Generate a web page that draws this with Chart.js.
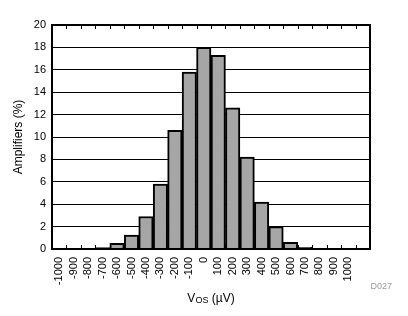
<!DOCTYPE html>
<html>
<head>
<meta charset="utf-8">
<script src="https://cdn.jsdelivr.net/npm/chart.js@4"></script>
<style>
html,body{margin:0;padding:0;background:#fff;}
#wrap{width:408px;height:316px;position:relative;}
</style>
</head>
<body>
<div id="wrap"><canvas id="c" width="408" height="316"></canvas></div>
<script>
const categories = ['-1000','-900','-800','-700','-600','-500','-400','-300','-200','-100','0','100','200','300','400','500','600','700','800','900','1000',''];
const amplifiers = [0,0,0,0.12,0.5,1.25,2.9,5.8,10.6,15.8,18.0,17.3,12.6,8.2,4.2,2.0,0.6,0.15,0,0,0,0];
const yTicksMin = 0, yTicksMax = 20, yStep = 2;
const yTitle = 'Amplifiers (%)';
const xTitleMain = 'V', xTitleSub = 'OS', xTitleRest = ' (µV)';
const figId = 'D027';

const FONT = 'Arial, "Liberation Sans", sans-serif';

const framePlugin = {
  id: 'frame',
  afterDatasetsDraw(chart) {
    const {ctx, chartArea: a, scales} = chart;
    const xs = scales.x;
    ctx.save();
    ctx.strokeStyle = '#000';
    ctx.lineWidth = 1;
    const n = categories.length;
    for (let i = 1; i < n; i++) {
      const px = Math.round((xs.getPixelForValue(i - 1) + xs.getPixelForValue(i)) / 2) + 0.5;
      ctx.beginPath();
      ctx.moveTo(px, a.top); ctx.lineTo(px, a.top + 4);
      ctx.moveTo(px, a.bottom); ctx.lineTo(px, a.bottom - 4);
      ctx.stroke();
    }
    ctx.lineWidth = 2;
    ctx.strokeRect(a.left, a.top, a.right - a.left, a.bottom - a.top);
    ctx.restore();
  },
  afterDraw(chart) {
    const {ctx, chartArea: a} = chart;
    ctx.save();
    ctx.fillStyle = '#000';
    ctx.textBaseline = 'alphabetic';
    const big = '12px ' + FONT, small = '9px ' + FONT;
    ctx.font = big; const w1 = ctx.measureText(xTitleMain).width;
    const w3 = ctx.measureText(xTitleRest).width;
    ctx.font = small; const w2 = ctx.measureText(xTitleSub).width;
    const total = w1 + w2 + w3;
    let x = (a.left + a.right) / 2 - total / 2;
    const y = 302;
    ctx.textAlign = 'left';
    ctx.font = big; ctx.fillText(xTitleMain, x, y); x += w1;
    ctx.font = small; ctx.fillText(xTitleSub, x, y + 1); x += w2;
    ctx.font = big; ctx.fillText(xTitleRest, x, y);
    ctx.font = '9px ' + FONT;
    ctx.fillStyle = '#999';
    ctx.textAlign = 'right';
    ctx.fillText(figId, 392, 289);
    ctx.restore();
  }
};

new Chart(document.getElementById('c'), {
  type: 'bar',
  data: {
    labels: categories,
    datasets: [{
      data: amplifiers,
      backgroundColor: '#a6a6a6',
      borderColor: '#000',
      borderWidth: 2,
      barPercentage: 1,
      categoryPercentage: 1
    }]
  },
  options: {
    responsive: false,
    animation: false,
    devicePixelRatio: 1,
    layout: { padding: { left: 11, right: 38, top: 25, bottom: 0 } },
    plugins: { legend: { display: false }, tooltip: { enabled: false } },
    scales: {
      x: {
        grid: { display: false, drawTicks: false },
        border: { display: false },
        ticks: {
          color: '#000', font: { family: FONT, size: 11 },
          minRotation: 90, maxRotation: 90, autoSkip: false, padding: 8
        },
        afterFit(s) { s.height = 67; }
      },
      y: {
        min: yTicksMin, max: yTicksMax,
        grid: { color: '#000', lineWidth: 1, drawTicks: false },
        border: { display: false },
        ticks: { stepSize: yStep, color: '#000', font: { family: FONT, size: 11 }, padding: 6 },
        title: { display: true, text: yTitle, color: '#000', font: { family: FONT, size: 12 }, padding: { top: 0, bottom: 4 } },
        afterFit(s) { s.width = 41; }
      }
    }
  },
  plugins: [framePlugin]
});
</script>
</body>
</html>
